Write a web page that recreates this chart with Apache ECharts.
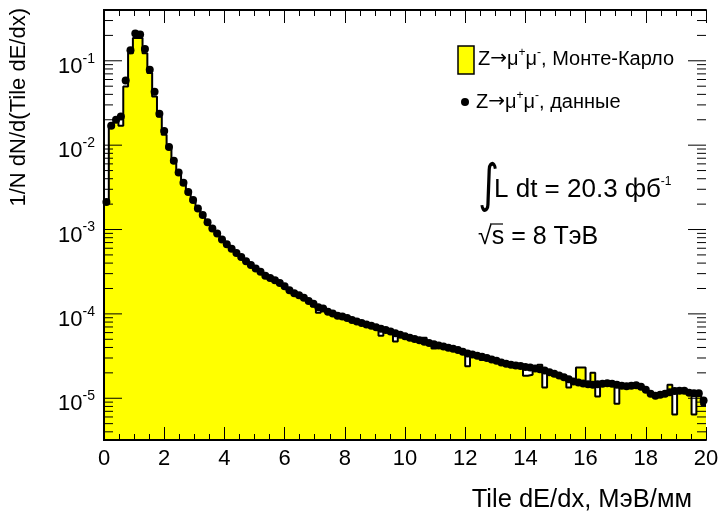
<!DOCTYPE html>
<html>
<head>
<meta charset="utf-8">
<title>Tile dE/dx</title>
<script src="https://cdn.jsdelivr.net/npm/echarts@6.0.0/dist/echarts.min.js"></script>
<style>
  html, body { margin: 0; padding: 0; background: #fff; }
  #chart { width: 723px; height: 517px; }
</style>
</head>
<body>
<div id="chart"></div>
<script>
// 125 бинов по 0.16 МэВ/мм, от 0 до 20
const binWidth = 0.16
const xMin = 0, xMax = 20
const yMin = 3.2e-6, yMax = 0.4
const xTickLabels = [0, 2, 4, 6, 8, 10, 12, 14, 16, 18, 20]
const yDecades = [1e-6, 1e-5, 1e-4, 1e-3, 1e-2, 1e-1]

// Z->mumu, Монте-Карло (гистограмма)
const mcValues = [
  2.10e-3, 1.72e-2, 1.95e-2, 1.70e-2, 4.97e-2, 1.23e-1, 1.86e-1, 1.86e-1, 1.23e-1, 7.15e-2,
  3.78e-2, 2.19e-2, 1.33e-2, 9.00e-3, 6.20e-3, 4.50e-3, 3.40e-3, 2.65e-3, 2.13e-3, 1.70e-3,
  1.44e-3, 1.18e-3, 1.00e-3, 8.70e-4, 7.40e-4, 6.50e-4, 5.75e-4, 5.12e-4, 4.57e-4, 4.08e-4,
  3.69e-4, 3.34e-4, 3.06e-4, 2.76e-4, 2.58e-4, 2.43e-4, 2.25e-4, 2.06e-4, 1.85e-4, 1.71e-4,
  1.61e-4, 1.50e-4, 1.38e-4, 1.22e-4, 1.03e-4, 1.12e-4, 1.03e-4, 9.80e-5, 9.25e-5, 9.05e-5,
  8.65e-5, 8.25e-5, 7.90e-5, 7.60e-5, 7.30e-5, 7.00e-5, 6.75e-5, 5.52e-5, 6.25e-5, 6.00e-5,
  4.72e-5, 5.50e-5, 5.30e-5, 5.07e-5, 4.90e-5, 4.72e-5, 5.22e-5, 4.40e-5, 3.90e-5, 4.10e-5,
  3.98e-5, 3.85e-5, 3.74e-5, 3.60e-5, 3.45e-5, 2.39e-5, 3.20e-5, 3.10e-5, 2.85e-5, 2.92e-5,
  2.80e-5, 2.70e-5, 2.58e-5, 2.48e-5, 2.43e-5, 2.30e-5, 2.34e-5, 1.85e-5, 1.90e-5, 2.20e-5,
  2.50e-5, 1.34e-5, 1.98e-5, 1.85e-5, 1.78e-5, 1.72e-5, 1.34e-5, 1.52e-5, 2.31e-5, 2.31e-5,
  1.42e-5, 2.00e-5, 1.05e-5, 1.45e-5, 1.47e-5, 1.44e-5, 8.60e-6, 1.37e-5, 1.35e-5, 1.37e-5,
  1.39e-5, 1.33e-5, 1.22e-5, 1.10e-5, 1.04e-5, 1.07e-5, 1.10e-5, 1.45e-5, 6.40e-6, 1.20e-5,
  1.20e-5, 1.13e-5, 6.40e-6, 1.12e-5, 8.30e-6
]

// Z->mumu, данные (точки в центрах бинов)
const dataValues = [
  2.12e-3, 1.70e-2, 2.00e-2, 2.19e-2, 5.85e-2, 1.33e-1, 2.10e-1, 2.05e-1, 1.38e-1, 7.82e-2,
  4.29e-2, 2.36e-2, 1.47e-2, 9.50e-3, 6.53e-3, 4.75e-3, 3.58e-3, 2.78e-3, 2.24e-3, 1.78e-3,
  1.49e-3, 1.22e-3, 1.03e-3, 8.97e-4, 7.63e-4, 6.68e-4, 5.92e-4, 5.28e-4, 4.71e-4, 4.20e-4,
  3.80e-4, 3.44e-4, 3.15e-4, 2.84e-4, 2.66e-4, 2.50e-4, 2.32e-4, 2.12e-4, 1.91e-4, 1.76e-4,
  1.66e-4, 1.55e-4, 1.42e-4, 1.32e-4, 1.20e-4, 1.16e-4, 1.06e-4, 1.01e-4, 9.52e-5, 9.33e-5,
  8.93e-5, 8.49e-5, 8.15e-5, 7.82e-5, 7.51e-5, 7.23e-5, 6.94e-5, 6.68e-5, 6.43e-5, 6.17e-5,
  5.90e-5, 5.65e-5, 5.44e-5, 5.22e-5, 5.04e-5, 4.86e-5, 4.69e-5, 4.52e-5, 4.36e-5, 4.23e-5,
  4.10e-5, 3.96e-5, 3.85e-5, 3.72e-5, 3.56e-5, 3.40e-5, 3.30e-5, 3.20e-5, 3.10e-5, 3.01e-5,
  2.88e-5, 2.78e-5, 2.66e-5, 2.56e-5, 2.50e-5, 2.45e-5, 2.41e-5, 2.35e-5, 2.31e-5, 2.25e-5,
  2.21e-5, 2.13e-5, 2.04e-5, 1.95e-5, 1.86e-5, 1.78e-5, 1.68e-5, 1.58e-5, 1.54e-5, 1.50e-5,
  1.47e-5, 1.45e-5, 1.47e-5, 1.49e-5, 1.51e-5, 1.49e-5, 1.45e-5, 1.41e-5, 1.39e-5, 1.41e-5,
  1.43e-5, 1.37e-5, 1.26e-5, 1.13e-5, 1.07e-5, 1.10e-5, 1.13e-5, 1.18e-5, 1.22e-5, 1.23e-5,
  1.23e-5, 1.16e-5, 1.15e-5, 1.15e-5, 9.40e-6
]

const FONT = '"Liberation Sans", Arial, Helvetica, sans-serif'

// ступенчатая линия: левый край каждого бина + правый край последнего
const mcStep = mcValues.map((v, i) => [i * binWidth, v])
mcStep.push([xMax, mcValues[mcValues.length - 1]])
const dataPoints = dataValues.map((v, i) => [(i + 0.5) * binWidth, v])

// деления логарифмической оси: 1..9 x 10^n
const yTicks = []
yDecades.forEach(d => {
  for (let m = 1; m <= 9; m++) {
    const v = d * m
    if (v >= yMin && v <= yMax) yTicks.push([xMin, v, m === 1 ? 1 : 0])
  }
})

const chart = echarts.init(document.getElementById('chart'))

const xAxisBase = {
  type: 'value',
  min: xMin,
  max: xMax,
  interval: 2,
  z: 10,
  axisLine: { show: true, onZero: false, lineStyle: { color: '#000', width: 2 } },
  axisTick: { show: true, inside: true, length: 13, lineStyle: { color: '#000', width: 1 } },
  minorTick: { show: true, splitNumber: 4, length: 6, lineStyle: { color: '#000', width: 1 } },
  splitLine: { show: false }
}

// стиль легенды: обычный текст + верхние индексы
const legendRich = {
  n: { fontSize: 20, fontFamily: FONT, fill: '#000', lineHeight: 24 },
  a: { fontSize: 20, fontFamily: '"DejaVu Sans", ' + FONT, fill: '#000', lineHeight: 24 },
  s: { fontSize: 12, fontFamily: FONT, fill: '#000', verticalAlign: 'top', lineHeight: 12 }
}

const option = {
  backgroundColor: '#fff',
  animation: false,
  grid: { left: 104, right: 17, top: 10, bottom: 77 },
  xAxis: [
    Object.assign({}, xAxisBase, {
      position: 'bottom',
      axisLabel: {
        color: '#000', fontFamily: FONT, fontSize: 22, margin: 8,
        formatter: v => xTickLabels.indexOf(v) >= 0 ? String(v) : ''
      }
    }),
    Object.assign({}, xAxisBase, { position: 'top', axisLabel: { show: false } })
  ],
  yAxis: [
    {
      type: 'log',
      logBase: 10,
      min: yMin,
      max: yMax,
      z: 10,
      position: 'left',
      axisLine: { show: true, lineStyle: { color: '#000', width: 2 } },
      axisTick: { show: false },
      splitLine: { show: false },
      axisLabel: {
        color: '#000',
        fontFamily: FONT,
        margin: 9,
        padding: [12, 0, 0, 0],
        formatter: v => {
          const e = Math.round(Math.log10(v))
          if (Math.abs(Math.log10(v) - e) > 1e-6) return ''
          return '{b|10}{s|' + e + '}'
        },
        rich: {
          b: { fontSize: 22, fontFamily: FONT, color: '#000', lineHeight: 30 },
          s: { fontSize: 14, fontFamily: FONT, color: '#000', verticalAlign: 'top', lineHeight: 14 }
        }
      }
    },
    {
      type: 'log',
      logBase: 10,
      min: yMin,
      max: yMax,
      z: 10,
      position: 'right',
      axisLine: { show: true, lineStyle: { color: '#000', width: 2 } },
      axisTick: { show: false },
      axisLabel: { show: false },
      splitLine: { show: false }
    }
  ],
  series: [
    {
      name: 'MC',
      type: 'line',
      step: 'end',
      data: mcStep,
      showSymbol: false,
      z: 2,
      lineStyle: { color: '#000', width: 2 },
      areaStyle: { color: '#ffff00', opacity: 1, origin: 'start' }
    },
    {
      name: 'data',
      type: 'scatter',
      data: dataPoints,
      symbol: 'circle',
      symbolSize: 8,
      z: 4,
      itemStyle: { color: '#000', opacity: 1 }
    },
    {
      // минорные и основные деления по оси Y (слева и справа)
      type: 'custom',
      data: yTicks,
      z: 11,
      silent: true,
      renderItem: (params, api) => {
        const v = api.value(1)
        const len = api.value(2) ? 18 : 9
        const l = api.coord([xMin, v])
        const r = api.coord([xMax, v])
        return {
          type: 'group',
          children: [
            { type: 'line', shape: { x1: l[0], y1: l[1], x2: l[0] + len, y2: l[1] }, style: { stroke: '#000', lineWidth: 1 } },
            { type: 'line', shape: { x1: r[0] - len, y1: r[1], x2: r[0], y2: r[1] }, style: { stroke: '#000', lineWidth: 1 } }
          ]
        }
      }
    }
  ],
  graphic: [
    // подписи осей
    {
      type: 'text', x: 19, y: 8, rotation: Math.PI / 2,
      style: { text: '1/N dN/d(Tile dE/dx)', font: '22px ' + FONT, fill: '#000', align: 'right', verticalAlign: 'middle' }
    },
    {
      type: 'text', x: 692, y: 500,
      style: { text: 'Tile dE/dx, МэВ/мм', font: '25.5px ' + FONT, fill: '#000', align: 'right', verticalAlign: 'middle' }
    },
    // легенда
    {
      type: 'rect', shape: { x: 458, y: 46, width: 16, height: 28 },
      style: { fill: '#ffff00', stroke: '#000', lineWidth: 1.5 }
    },
    {
      type: 'text', x: 478, y: 59,
      style: { text: '{n|Z}{a|→}{n|μ}{s|+}{n|μ}{s|-}{n|, Монте-Карло}', verticalAlign: 'middle', rich: legendRich }
    },
    {
      type: 'circle', shape: { cx: 465, cy: 102, r: 4 }, style: { fill: '#000' }
    },
    {
      type: 'text', x: 476, y: 102,
      style: { text: '{n|Z}{a|→}{n|μ}{s|+}{n|μ}{s|-}{n|, данные}', verticalAlign: 'middle', rich: legendRich }
    },
    // светимость и энергия
    {
      type: 'text', x: 478, y: 187, scaleY: 1.3,
      style: { text: '∫', font: '40px "DejaVu Sans", ' + FONT, fill: '#000', verticalAlign: 'middle' }
    },
    {
      type: 'text', x: 494, y: 190,
      style: {
        text: '{n|L dt = 20.3 фб}{s|-1}',
        verticalAlign: 'middle',
        rich: {
          n: { fontSize: 26, fontFamily: FONT, fill: '#000', lineHeight: 29 },
          s: { fontSize: 12, fontFamily: FONT, fill: '#000', verticalAlign: 'top', lineHeight: 12 }
        }
      }
    },
    {
      type: 'text', x: 478, y: 237,
      style: { text: '√s = 8 ТэВ', font: '25px ' + FONT, fill: '#000', verticalAlign: 'middle' }
    },
    {
      // черта над s
      type: 'line', shape: { x1: 490, y1: 224, x2: 503, y2: 224 }, style: { stroke: '#000', lineWidth: 1.2 }
    }
  ]
}

chart.setOption(option)
</script>
</body>
</html>
